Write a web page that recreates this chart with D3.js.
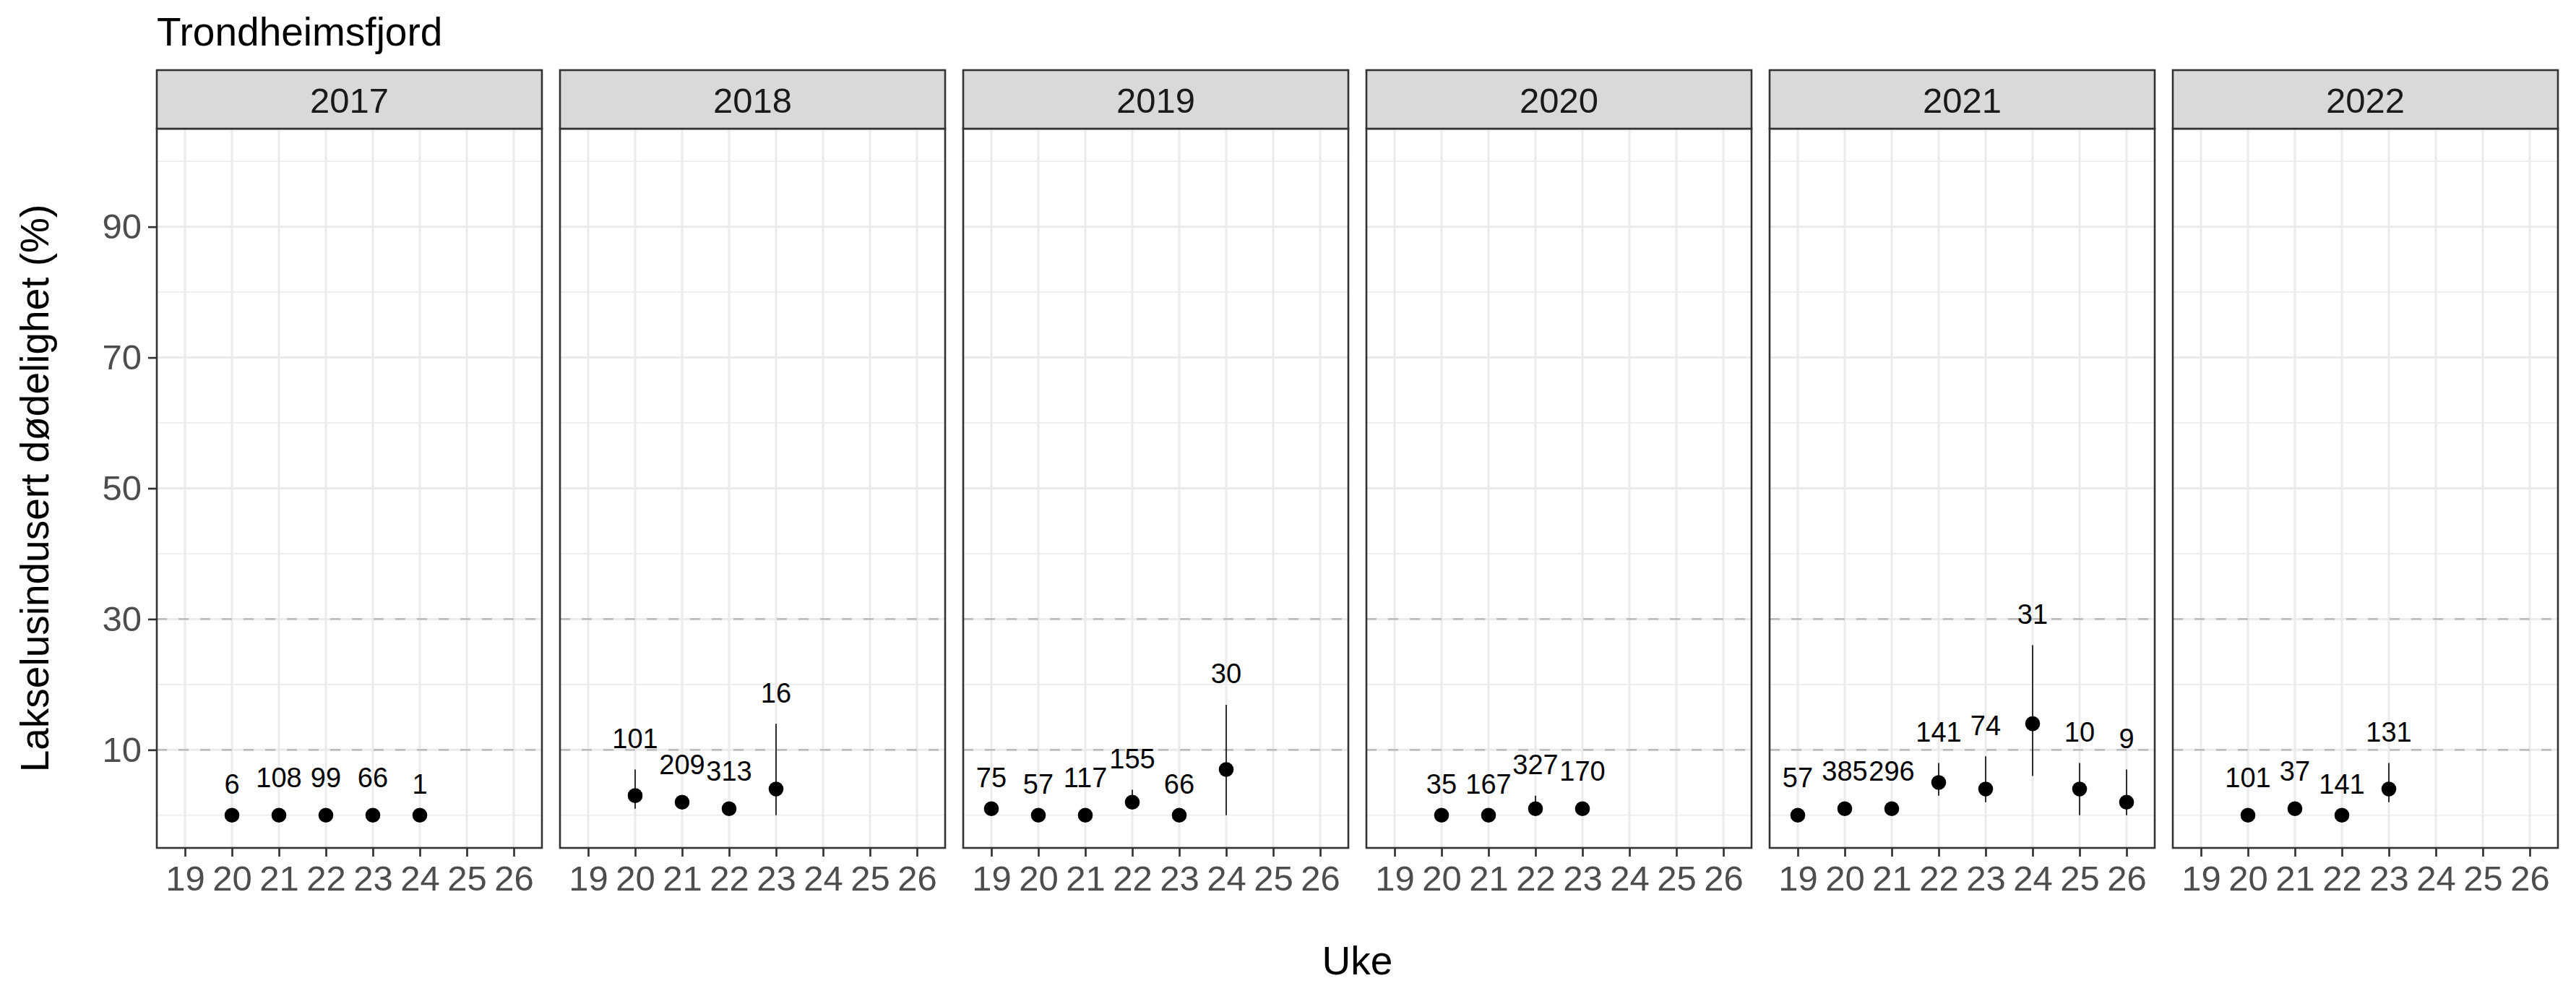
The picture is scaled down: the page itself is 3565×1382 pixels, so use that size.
<!DOCTYPE html>
<html><head><meta charset="utf-8">
<script src="https://cdn.jsdelivr.net/npm/d3@7"></script>
<style>body{margin:0;background:#fff} text{font-family:"Liberation Sans",Arial,sans-serif}</style>
</head><body>
<svg id="chart" width="3565" height="1382"></svg>
<script>
// ---- data ----
const chartTitle = "Trondheimsfjord";
const xTitle = "Uke";
const yTitle = "Lakselusindusert dødelighet (%)";
const years = [2017, 2018, 2019, 2020, 2021, 2022];
const weekTicks = [19, 20, 21, 22, 23, 24, 25, 26];
const yBreaks = [10, 30, 50, 70, 90];
const yMinor = [0, 20, 40, 60, 80, 100];
const thresholds = [10, 30];

const obsYear  = [2017,2017,2017,2017,2017, 2018,2018,2018,2018, 2019,2019,2019,2019,2019,2019, 2020,2020,2020,2020, 2021,2021,2021,2021,2021,2021,2021,2021, 2022,2022,2022,2022];
const obsWeek  = [20,21,22,23,24, 20,21,22,23, 19,20,21,22,23,24, 20,21,22,23, 19,20,21,22,23,24,25,26, 20,21,22,23];
const obsValue = [0,0,0,0,0, 3,2,1,4, 1,0,0,2,0,7, 0,0,1,1, 0,1,1,5,4,14,4,2, 0,1,0,4];
const obsLower = [0,0,0,0,0, 1,1,0.3,0, 0.3,0,0,1,0,0, 0,0,0.3,0.3, 0,0.3,0.3,3,2,6,0,0, 0,0.3,0,2];
const obsUpper = [0,1,1,1,0, 7,3,2,14, 1,0,1,3.9,0,16.9, 0,0,3,2, 1,2,2,8,9,26,8,7, 1,2,0,8];
const obsN     = [6,108,99,66,1, 101,209,313,16, 75,57,117,155,66,30, 35,167,327,170, 57,385,296,141,74,31,10,9, 101,37,141,131];

const obs = obsYear.map((yr, i) => ({year: yr, week: obsWeek[i], value: obsValue[i], lower: obsLower[i], upper: obsUpper[i], n: obsN[i]}));

// ---- layout ----
const svg = d3.select("#chart");
const panelLeft0 = 217, panelW = 533, pitch = 558;
const stripTop = 97, panelTop = 178, panelBottom = 1173;
const grid = "#ebebeb", dark = "#333333", tickText = "#4d4d4d";

const y = d3.scaleLinear().domain([-5, 105]).range([panelBottom, panelTop]);

svg.append("text").attr("x", 217).attr("y", 63).attr("font-size", 55).attr("fill", "#000").text(chartTitle);

years.forEach((yr, pi) => {
  const left = panelLeft0 + pi * pitch;
  const x = d3.scalePoint().domain(weekTicks).range([left, left + panelW]).padding(0.6);
  const g = svg.append("g");
  // background
  g.append("rect").attr("x", left).attr("y", panelTop).attr("width", panelW).attr("height", panelBottom - panelTop).attr("fill", "#fff");
  // minor grid
  g.selectAll(".ymin").data(yMinor).enter().append("line")
    .attr("x1", left).attr("x2", left + panelW).attr("y1", d => y(d)).attr("y2", d => y(d))
    .attr("stroke", grid).attr("stroke-width", 1.6);
  // major grid
  g.selectAll(".ymaj").data(yBreaks).enter().append("line")
    .attr("x1", left).attr("x2", left + panelW).attr("y1", d => y(d)).attr("y2", d => y(d))
    .attr("stroke", grid).attr("stroke-width", 3);
  g.selectAll(".xmaj").data(weekTicks).enter().append("line")
    .attr("x1", d => x(d)).attr("x2", d => x(d)).attr("y1", panelTop).attr("y2", panelBottom)
    .attr("stroke", grid).attr("stroke-width", 3);
  // thresholds
  g.selectAll(".thr").data(thresholds).enter().append("line")
    .attr("x1", left).attr("x2", left + panelW).attr("y1", d => y(d)).attr("y2", d => y(d))
    .attr("stroke", "#bebebe").attr("stroke-width", 2.8).attr("stroke-dasharray", "14 16");
  const pd = obs.filter(d => d.year === yr);
  // error bars
  g.selectAll(".err").data(pd.filter(d => d.upper > d.lower)).enter().append("line")
    .attr("x1", d => x(d.week)).attr("x2", d => x(d.week))
    .attr("y1", d => y(d.lower)).attr("y2", d => y(d.upper))
    .attr("stroke", "#000").attr("stroke-width", 1.6);
  // points
  g.selectAll(".pt").data(pd).enter().append("circle")
    .attr("cx", d => x(d.week)).attr("cy", d => y(d.value)).attr("r", 10.3).attr("fill", "#000");
  // labels
  g.selectAll(".lab").data(pd).enter().append("text")
    .attr("x", d => x(d.week)).attr("y", d => y(d.upper) - 29.5)
    .attr("text-anchor", "middle").attr("font-size", 38).attr("fill", "#000").text(d => d.n);
  // panel border
  g.append("rect").attr("x", left).attr("y", panelTop).attr("width", panelW).attr("height", panelBottom - panelTop)
    .attr("fill", "none").attr("stroke", dark).attr("stroke-width", 2.6);
  // strip
  g.append("rect").attr("x", left).attr("y", stripTop).attr("width", panelW).attr("height", panelTop - stripTop)
    .attr("fill", "#d9d9d9").attr("stroke", dark).attr("stroke-width", 2.6);
  g.append("text").attr("x", left + panelW / 2).attr("y", 156).attr("text-anchor", "middle")
    .attr("font-size", 49).attr("fill", "#1a1a1a").text(yr);
  // x axis
  const ax = g.append("g").attr("transform", `translate(0,${panelBottom})`)
    .call(d3.axisBottom(x).tickSize(12).tickPadding(12));
  ax.select(".domain").remove();
  ax.selectAll(".tick line").attr("stroke", dark).attr("stroke-width", 2.7);
  ax.selectAll(".tick text").attr("fill", tickText).attr("font-size", 49).attr("font-family", "Liberation Sans, Arial, sans-serif");
});

// y axis (left of first panel)
const ay = svg.append("g").attr("transform", `translate(${panelLeft0},0)`)
  .call(d3.axisLeft(y).tickValues(yBreaks).tickSize(12).tickPadding(9));
ay.select(".domain").remove();
ay.selectAll(".tick line").attr("stroke", dark).attr("stroke-width", 2.7);
ay.selectAll(".tick text").attr("fill", tickText).attr("font-size", 49).attr("font-family", "Liberation Sans, Arial, sans-serif");

// axis titles
svg.append("text").attr("x", panelLeft0 + (5 * pitch + panelW) / 2).attr("y", 1348)
  .attr("text-anchor", "middle").attr("font-size", 55).attr("fill", "#000").text(xTitle);
svg.append("text").attr("transform", `translate(67,${(panelTop + panelBottom) / 2}) rotate(-90)`)
  .attr("text-anchor", "middle").attr("font-size", 55).attr("fill", "#000").text(yTitle);
</script>
</body></html>
